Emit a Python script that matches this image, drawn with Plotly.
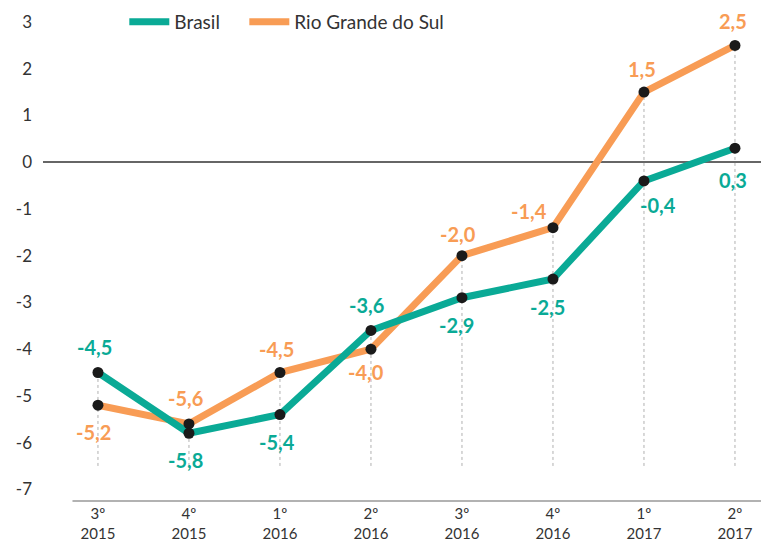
import plotly.graph_objects as go

quarters = ["3º<br>2015", "4º<br>2015", "1º<br>2016", "2º<br>2016",
            "3º<br>2016", "4º<br>2016", "1º<br>2017", "2º<br>2017"]
brasil = [-4.5, -5.8, -5.4, -3.6, -2.9, -2.5, -0.4, 0.3]
rs = [-5.2, -5.6, -4.5, -4.0, -2.0, -1.4, 1.5, 2.5]
y_ticks = [3, 2, 1, 0, -1, -2, -3, -4, -5, -6, -7]

# label offsets (pixels): (xshift, yshift)
brasil_off = [(-3, 25), (-3, -27), (-3, -27), (-4, 25), (-5, -27), (-5, -28), (14, -24), (-2, -32)]
rs_off = [(-4, -27), (-3, 26), (-3, 23), (-5, -23), (-4, 22), (-24, 17), (-2, 23), (-2, 24)]

TEAL = "#0aaa96"
ORANGE = "#f89c55"
FONT = "Lato"

x = list(range(len(quarters)))
fig = go.Figure()

# dotted guide lines
gx, gy = [], []
for i in x:
    gx += [i, i, None]
    gy += [-6.5, max(brasil[i], rs[i]), None]
fig.add_trace(go.Scatter(x=gx, y=gy, mode="lines", showlegend=False, hoverinfo="skip",
                         line=dict(color="#b0b0b0", width=1, dash="dot")))

fig.add_trace(go.Scatter(x=x, y=rs, mode="lines", name="Rio Grande do Sul", legendrank=2,
                         line=dict(color=ORANGE, width=7)))
fig.add_trace(go.Scatter(x=x, y=brasil, mode="lines", name="Brasil    ", legendrank=1,
                         line=dict(color=TEAL, width=7)))
fig.add_trace(go.Scatter(x=x + x, y=rs + brasil, mode="markers", showlegend=False,
                         marker=dict(color="#1a1a1a", size=11)))

def fmt(v):
    return "<b>" + f"{v:.1f}".replace(".", ",") + "</b>"

for i in x:
    fig.add_annotation(x=i, y=brasil[i], text=fmt(brasil[i]), showarrow=False,
                       xshift=brasil_off[i][0], yshift=brasil_off[i][1],
                       font=dict(family=FONT, size=20, color=TEAL))
    fig.add_annotation(x=i, y=rs[i], text=fmt(rs[i]), showarrow=False,
                       xshift=rs_off[i][0], yshift=rs_off[i][1],
                       font=dict(family=FONT, size=20, color=ORANGE))

# bottom axis line
fig.add_shape(type="line", xref="x", yref="paper", x0=-0.28, x1=7.4, y0=0, y1=0,
              line=dict(color="#999999", width=1.5))

fig.update_layout(
    width=761, height=537,
    margin=dict(l=35, r=0, t=0, b=44, autoexpand=False),
    paper_bgcolor="white", plot_bgcolor="white",
    font=dict(family=FONT, color="#333333"),
    showlegend=True,
    legend=dict(orientation="h", x=0.112, xanchor="left", y=0.972, yanchor="middle",
                font=dict(size=19, color="#333333"), bgcolor="rgba(0,0,0,0)",
                itemwidth=40, tracegroupgap=0),
    xaxis=dict(range=[-0.604, 7.374], tickvals=x, ticktext=quarters, showgrid=False,
               zeroline=False, showline=False, ticks="", automargin=False,
               ticklabelstandoff=2,
               tickfont=dict(size=15, color="#333333")),
    yaxis=dict(range=[-7.25, 3.3], tickvals=y_ticks, ticktext=[str(v) for v in y_ticks],
               showgrid=False, zeroline=True, zerolinecolor="#666666", zerolinewidth=1.5,
               showline=False, ticks="", ticklabelstandoff=10, automargin=False,
               tickfont=dict(size=17, color="#333333")),
)

fig.write_html("out.html")
